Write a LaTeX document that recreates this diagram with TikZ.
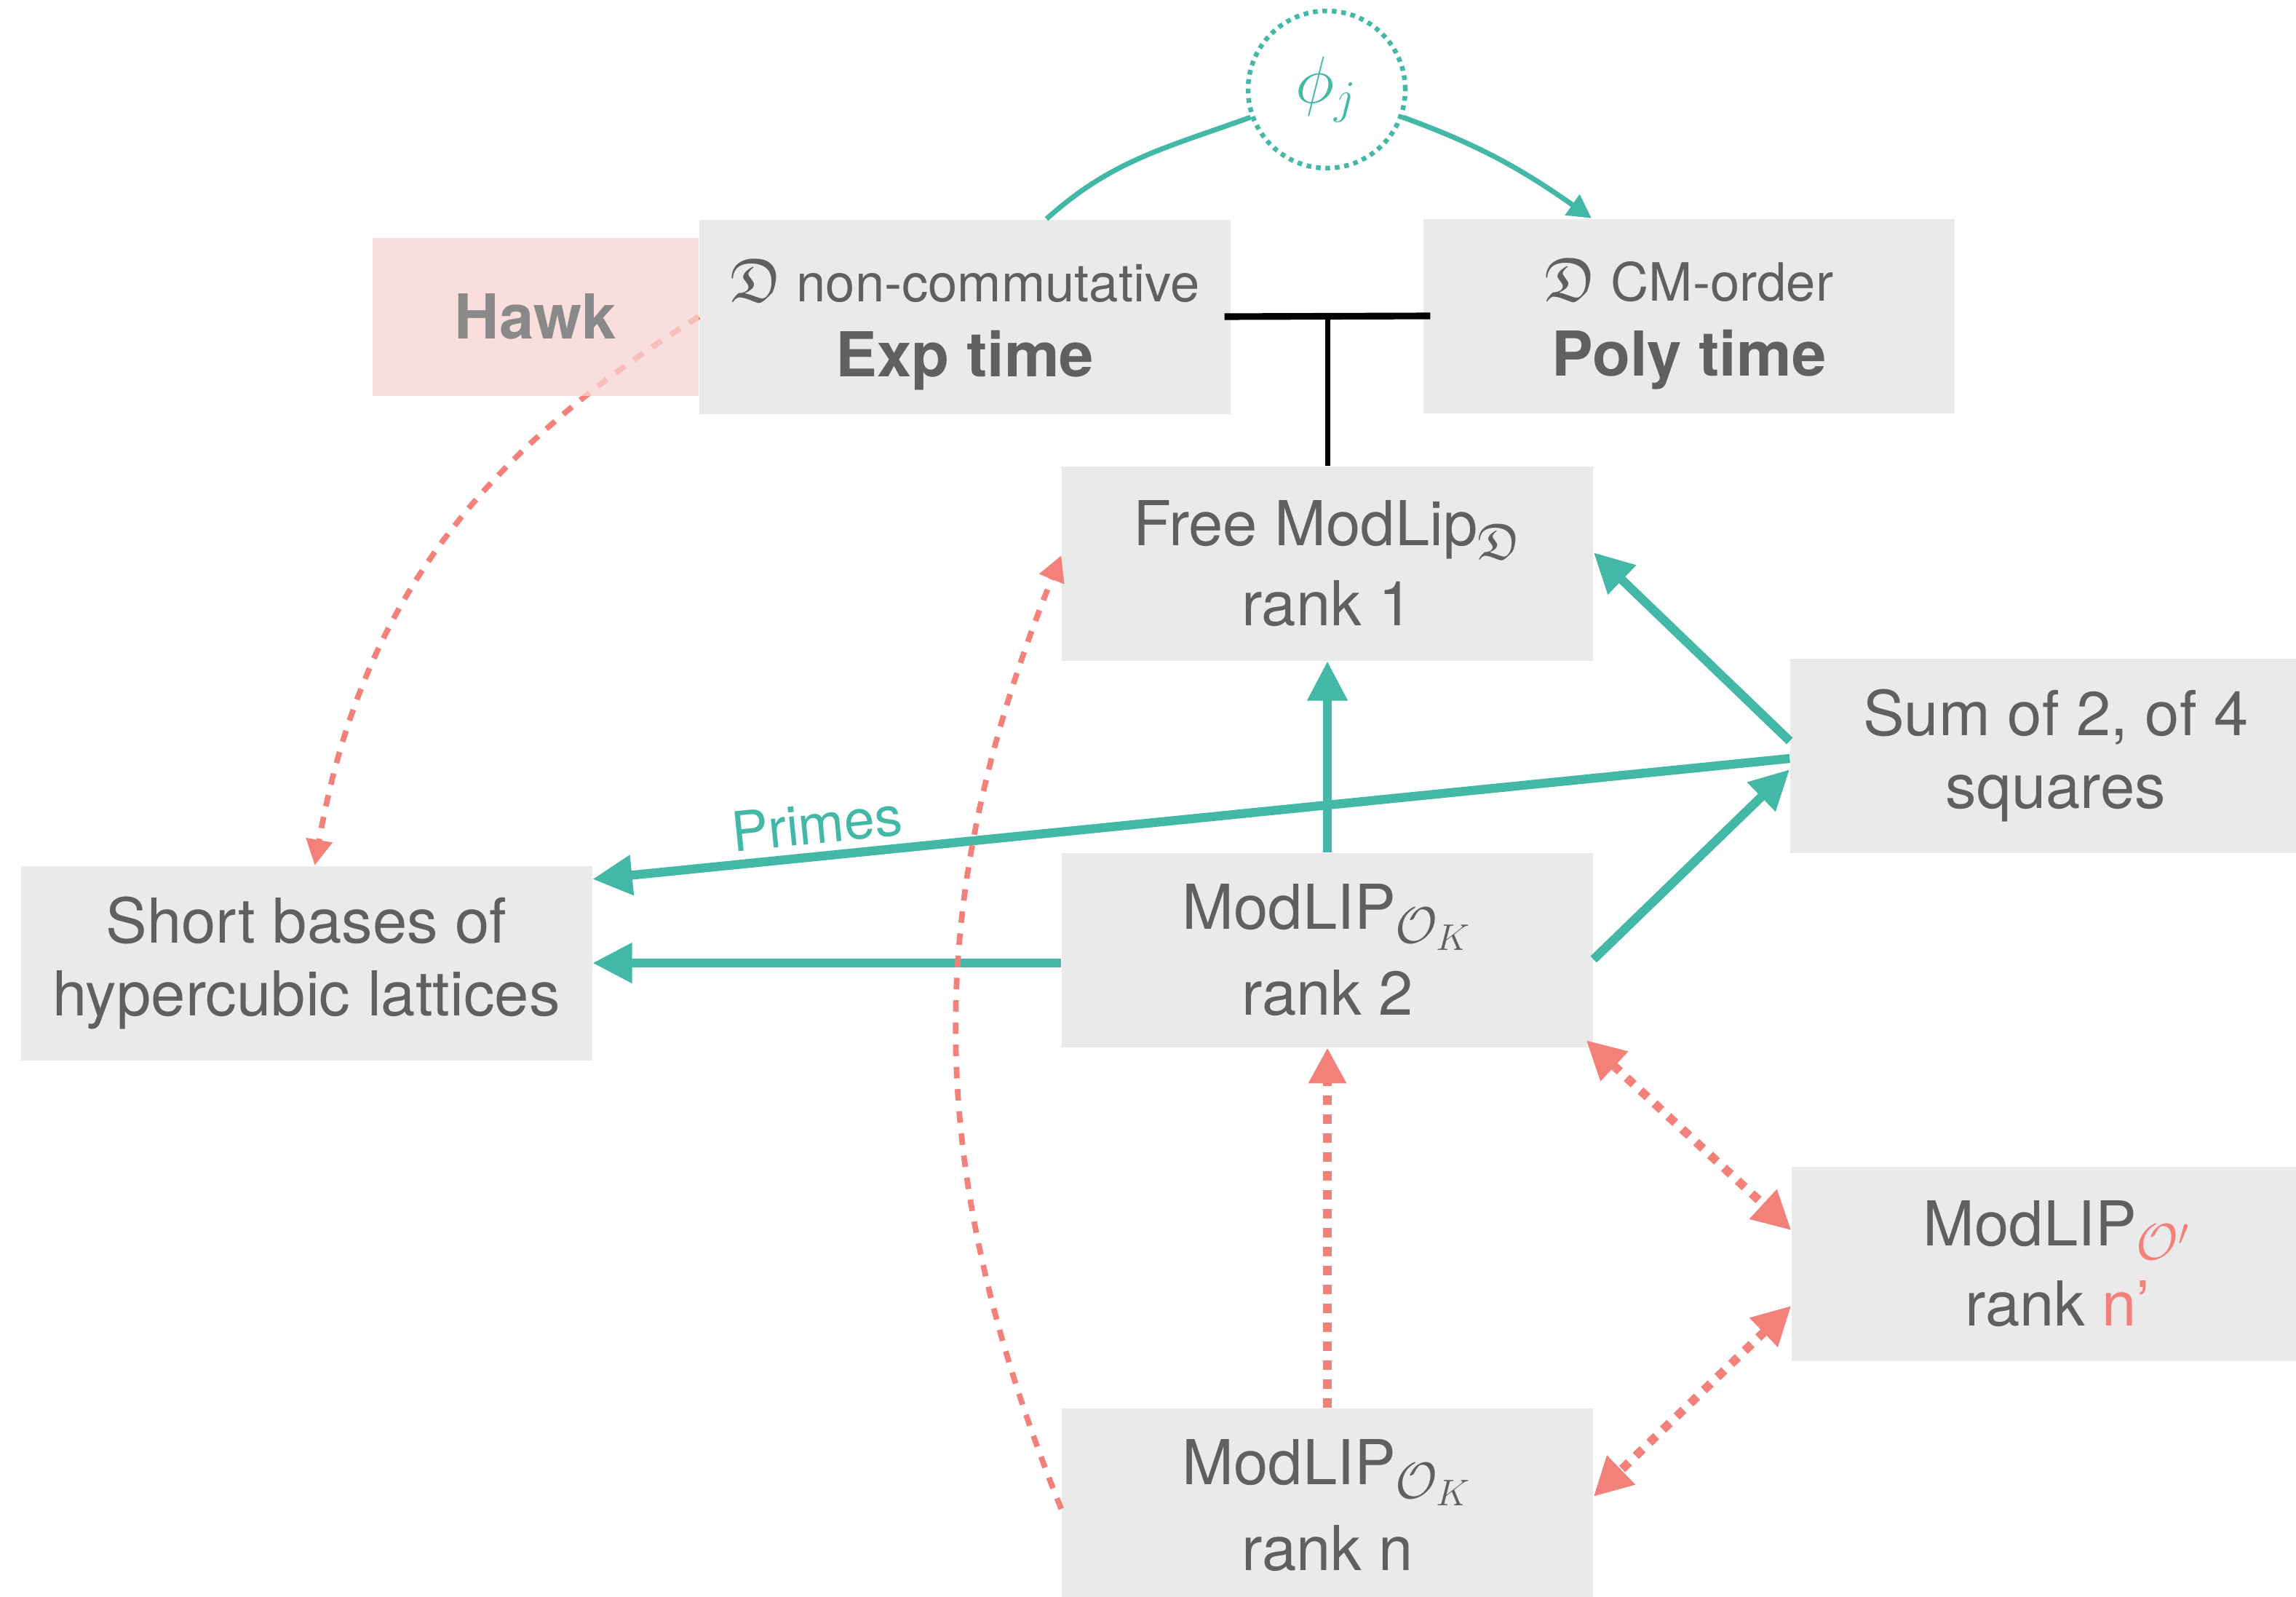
\RequirePackage{fix-cm}
\documentclass[tikz,border=0pt]{standalone}
\usepackage{amssymb}
\usepackage{fontspec}
\setmainfont{TeX Gyre Heros}
\DeclareMathSizes{24.2}{24.2}{20}{14.5}
\usepackage{tikz}
\usetikzlibrary{arrows.meta, positioning}
\definecolor{sarcelle}{HTML}{44B8A6}
\definecolor{saumon}{HTML}{F4807A}
\definecolor{fondgris}{HTML}{EAEAEA}
\definecolor{texte}{HTML}{606060}
\definecolor{rosepale}{HTML}{F8D3D3}
\definecolor{grishawk}{HTML}{898989}
\newcommand{\frakD}{{\fontsize{24.2}{28}\selectfont$\mathfrak{D}$}}
\tikzset{
  bloc/.style={rectangle, fill=fondgris, text=texte, font=\fontsize{24.2}{28.5}\selectfont,
    minimum width=7.3cm, minimum height=2.67cm, align=center, inner sep=0pt},
  bloclarge/.style={bloc, minimum width=7.85cm},
  blochawk/.style={rectangle, fill=rosepale, fill opacity=0.75, text opacity=1, text=grishawk,
    font=\fontsize{24.2}{29}\selectfont\bfseries, minimum width=4.48cm, minimum height=2.17cm,
    inner sep=0pt},
  cercle/.style={circle, draw=sarcelle, line width=1.85pt, dash pattern=on 1.85pt off 1.85pt,
    text=sarcelle, minimum size=2.16cm, inner sep=0pt, font=\fontsize{26}{30}\selectfont},
  fleche/.style={-{Triangle[length=15.5pt, width=15pt]}, line width=3.5pt, color=sarcelle},
  lienfin/.style={line width=2pt, color=sarcelle},
  flechefine/.style={lienfin, -{Triangle[length=9.2pt, width=9.5pt]}},
  flechepoint/.style={-{Triangle[length=14pt, width=14pt]}, line width=3.4pt, color=saumon,
    dash pattern=on 3.7pt off 3.7pt},
  flechedouble/.style={flechepoint, {Triangle[length=15pt, width=15pt]}-{Triangle[length=15pt, width=15pt]}},
  flechetiret/.style={-{Triangle[length=10pt, width=10pt]}, line width=2.2pt, color=saumon,
    dash pattern=on 4.5pt off 4.2pt},
  barre/.style={line width=2.6pt, color=black},
  etiquette/.style={font=\fontsize{21.5}{24}\selectfont, text=sarcelle, inner sep=1pt},
}

\begin{document}
\begin{tikzpicture}
    \useasboundingbox (0,0) rectangle (31.55,-21.94);
    \clip (0,0) rectangle (31.55,-21.94);
    % Blocs
    \node[bloc] (exp) at (13.26,-4.35)
      {{\fontsize{20.6}{24}\selectfont\rule{0pt}{23pt}\frakD{} non-commutative}\\[1pt]{\bfseries Exp time}};
    \node[bloc] (poly) at (23.21,-4.34)
      {{\fontsize{20.6}{24}\selectfont\rule{0pt}{23pt}\frakD{} CM-order}\\[1pt]{\bfseries Poly time}};
    \node[cercle] (phi) at (18.23,-1.23) {$\phi_j$};
    \node[bloc] (free) at (18.24,-7.74) {Free ModLip$_{\mathfrak{D}}$\\[3pt]rank 1};
    \node[bloc] (sum) at (28.25,-10.38) {Sum of 2, of 4\\squares};
    \node[bloclarge] (short) at (4.21,-13.23) {Short bases of\\hypercubic lattices};
    \node[bloc] (mod2) at (18.24,-13.05) {ModLIP$_{\mathcal{O}_K}$\\[5pt]rank 2};
    \node[bloc] (oprime) at (28.27,-17.36)
      {ModLIP$_{\color{saumon}\mathcal{O}'}$\\[3pt]rank {\color{saumon}n’}};
    \node[bloc] (rankn) at (18.24,-20.68) {ModLIP$_{\mathcal{O}_K}$\\[5pt]rank n};

    % Liens du haut
    \draw[lienfin] ([xshift=11.2mm]exp.north) to[out=42, in=200] (phi);
    \draw[flechefine] (phi) to[out=-20, in=145] ([xshift=-13.4mm]poly.north);
    \draw[barre] ([xshift=-0.9mm]exp.east) -- ([xshift=1mm]poly.west);
    \draw[barre, line width=2pt] (free.north) -- (free.north |- exp.east);

    % Reductions
    \draw[fleche] ([yshift=-0.4mm]sum.west) -- node[etiquette, pos=0.81, sloped, above=2pt] {Primes}
      ([yshift=-1.9mm]short.north east);
    \draw[fleche] (mod2) -- (free);
    \draw[fleche] ([yshift=2mm]sum.west) -- ([yshift=1.5mm]free.east);
    \draw[fleche] (mod2.west |- short.east) -- (short.east);
    \draw[fleche] ([yshift=-1.3mm]mod2.east) -- ([yshift=-1.9mm]sum.west);

    \draw[flechepoint] (rankn) -- (mod2);
    \draw[flechedouble] ([xshift=-1mm, yshift=1mm]mod2.south east) -- ([yshift=4.6mm]oprime.west);
    \draw[flechedouble] ([yshift=-5.8mm]oprime.west) -- ([yshift=1.2mm]rankn.east);
    \draw[flechetiret] ([yshift=-0.5mm]rankn.west) to[bend left=22] ([yshift=1.1mm]free.west);
    \draw[flechetiret] (exp.west) to[out=212, in=80] ([xshift=1.15mm]short.north);

    \node[blochawk, left=0pt of exp] (hawk) {Hawk};
\end{tikzpicture}
\end{document}
